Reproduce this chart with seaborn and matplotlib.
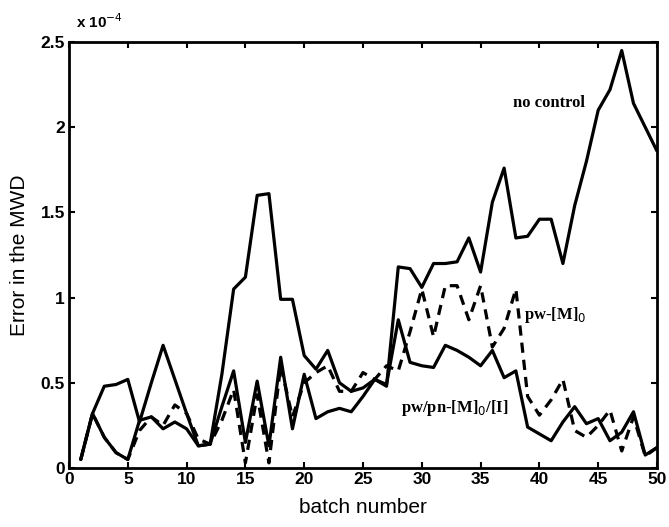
import matplotlib
matplotlib.use("Agg")
import matplotlib.pyplot as plt
import seaborn as sns
import pandas as pd
import numpy as np
from matplotlib.ticker import FuncFormatter

batch = list(range(1, 51))
no_control = [0.05, 0.32, 0.48, 0.49, 0.52, 0.27, 0.50, 0.72, 0.52, 0.32,
              0.13, 0.14, 0.55, 1.05, 1.12, 1.60, 1.61, 0.99, 0.99, 0.66,
              0.58, 0.69, 0.50, 0.45, 0.47, 0.52, 0.48, 1.18, 1.17, 1.06,
              1.20, 1.20, 1.21, 1.35, 1.15, 1.56, 1.76, 1.35, 1.36, 1.46,
              1.46, 1.20, 1.54, 1.80, 2.10, 2.22, 2.45, 2.14, 2.00, 1.86]
pw_m0 = [0.05, 0.32, 0.18, 0.09, 0.05, 0.22, 0.30, 0.25, 0.37, 0.32,
         0.17, 0.14, 0.28, 0.46, 0.03, 0.43, 0.03, 0.60, 0.30, 0.50,
         0.56, 0.60, 0.45, 0.45, 0.56, 0.52, 0.60, 0.57, 0.80, 1.05,
         0.77, 1.07, 1.07, 0.87, 1.07, 0.71, 0.82, 1.05, 0.42, 0.31,
         0.40, 0.52, 0.22, 0.18, 0.25, 0.34, 0.10, 0.30, 0.07, 0.12]
pw_pn = [0.05, 0.32, 0.18, 0.09, 0.05, 0.28, 0.30, 0.23, 0.27, 0.23,
         0.13, 0.14, 0.36, 0.57, 0.15, 0.51, 0.13, 0.65, 0.23, 0.55,
         0.29, 0.33, 0.35, 0.33, 0.42, 0.52, 0.49, 0.87, 0.62, 0.60,
         0.59, 0.72, 0.69, 0.65, 0.60, 0.69, 0.53, 0.57, 0.24, 0.20,
         0.16, 0.27, 0.36, 0.26, 0.29, 0.16, 0.21, 0.33, 0.076, 0.12]

scale = 1e-4
df = pd.DataFrame({
    "batch": batch * 3,
    "error": [v * scale for v in no_control + pw_m0 + pw_pn],
    "series": ["no control"] * 50 + ["pw-[M]0"] * 50 + ["pw/pn-[M]0/[I]"] * 50,
})

sns.set_theme(style="white")
plt.rcParams['font.family'] = ['Liberation Sans', 'DejaVu Sans']
plt.rcParams['text.color'] = 'black'
plt.rcParams['axes.labelcolor'] = 'black'
plt.rcParams['xtick.color'] = 'black'
plt.rcParams['ytick.color'] = 'black'

fig = plt.figure(figsize=(6.69, 5.27), dpi=100)
ax = fig.add_axes([69/669, 1 - 468/527, (657 - 69)/669, (468 - 42)/527])

sns.lineplot(data=df, x="batch", y="error", hue="series", style="series",
             palette={"no control": "black", "pw-[M]0": "black", "pw/pn-[M]0/[I]": "black"},
             dashes={"no control": "", "pw-[M]0": (3.2, 2.2), "pw/pn-[M]0/[I]": ""},
             hue_order=["pw/pn-[M]0/[I]", "pw-[M]0", "no control"],
             linewidth=2.3, ax=ax, legend=False)

ax.set_xlim(0, 50)
ax.set_ylim(0, 2.5e-4)
ax.set_xticks(range(0, 51, 5))
ax.set_yticks([0, 0.5e-4, 1e-4, 1.5e-4, 2e-4, 2.5e-4])
ax.yaxis.set_major_formatter(FuncFormatter(lambda v, p: f"{v/scale:g}"))
ax.tick_params(direction="in", length=4, width=1.5, labelsize=12.5,
               top=True, right=True, left=True, bottom=True, pad=3)
for lbl in ax.get_xticklabels() + ax.get_yticklabels():
    lbl.set_fontweight("bold")
for s in ax.spines.values():
    s.set_linewidth(2.0)
    s.set_color("black")

ax.set_xlabel("batch number", fontsize=15, labelpad=8, color="black")
ax.set_ylabel("Error in the MWD", fontsize=15, labelpad=8, color="black")

fig.text(76/669, 1 - 22/527, r"x 10$^{-4}$", fontsize=11, fontweight="bold",
         va="center", ha="left")

serif = ['Liberation Serif', 'DejaVu Serif']
ax.text(40.8, 2.14e-4, "no control", family=serif, fontsize=12, fontweight="bold",
        ha="center", va="center")
ax.text(38.7, 0.90e-4, r"pw-[M]$_0$", family=serif, fontsize=12, fontweight="bold",
        ha="left", va="center")
ax.text(28.2, 0.35e-4, r"pw/pn-[M]$_0$/[I]", family=serif, fontsize=12,
        fontweight="bold", ha="left", va="center")

fig.savefig("out.png", dpi=100)
